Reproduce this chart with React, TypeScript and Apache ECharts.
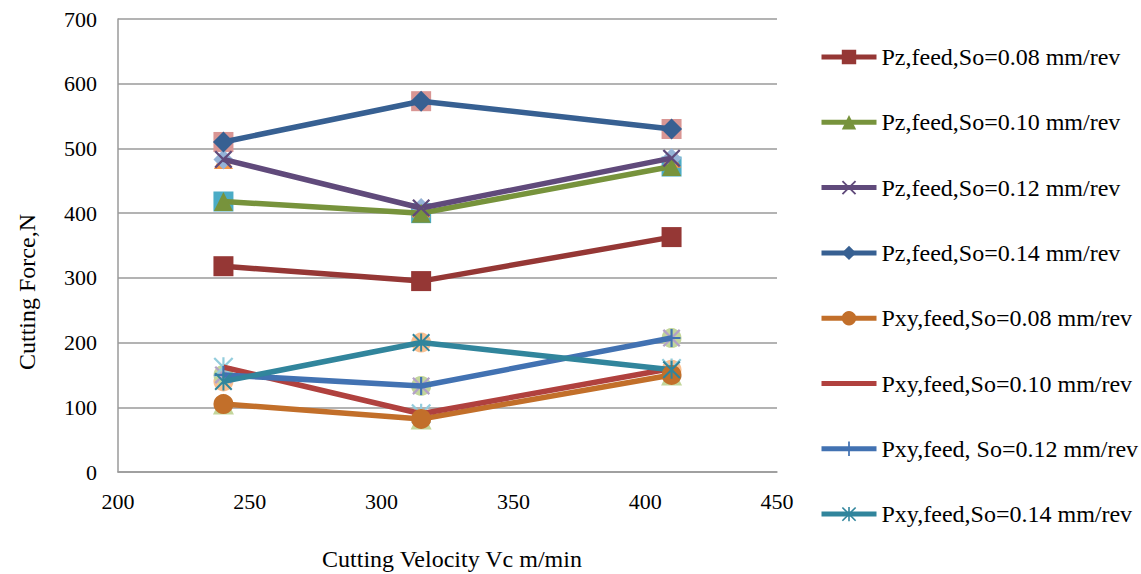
import React, { useEffect, useRef } from "react";
import * as echarts from "echarts";

// ---- data ----
const velocities = [240, 315, 410];
const pz08 = [318, 295, 363];
const pz10 = [418, 400, 472];
const pz12 = [483, 408, 485];
const pz14 = [510, 573, 530];
const pxy08 = [105, 82, 150];
const pxy10 = [162, 90, 160];
const pxy12 = [150, 133, 207];
const pxy14 = [140, 200, 158];

const seriesNames = [
  "Pz,feed,So=0.08 mm/rev",
  "Pz,feed,So=0.10 mm/rev",
  "Pz,feed,So=0.12 mm/rev",
  "Pz,feed,So=0.14 mm/rev",
  "Pxy,feed,So=0.08 mm/rev",
  "Pxy,feed,So=0.10 mm/rev",
  "Pxy,feed, So=0.12 mm/rev",
  "Pxy,feed,So=0.14 mm/rev",
];
const seriesValues = [pz08, pz10, pz12, pz14, pxy08, pxy10, pxy12, pxy14];
const seriesColors = [
  "#953735",
  "#77933C",
  "#604A7B",
  "#376092",
  "#C26F2A",
  "#B0413E",
  "#4272B2",
  "#31859C",
];

const xTicks = { min: 200, max: 450, interval: 50 };
const yTicks = { min: 0, max: 700, interval: 100 };

const FONT = "'Liberation Serif', 'Times New Roman', serif";

const X_PATH =
  "path://M0,0.9L0.9,0L10,9.1L9.1,10Z M9.1,0L10,0.9L0.9,10L0,9.1Z";
const PLUS_PATH =
  "path://M4.4,0L5.6,0L5.6,10L4.4,10Z M0,4.4L10,4.4L10,5.6L0,5.6Z";
const STAR_PATH =
  "path://M0,0.8L0.8,0L10,9.2L9.2,10Z M9.2,0L10,0.8L0.8,10L0,9.2Z M4.45,0L5.55,0L5.55,10L4.45,10Z";

const symbols = [
  "rect",
  "triangle",
  X_PATH,
  "diamond",
  "circle",
  "none",
  PLUS_PATH,
  STAR_PATH,
];
const symbolSizes = [20, 19, 18, 21, 20, 0, 18, 18];

// background marker layers (unlabelled in legend)
const bgLayers: { values: number[]; color: string; symbol: string; size: number }[] = [
  { values: pz14, color: "#D99694", symbol: "rect", size: 20 },
  { values: pz10, color: "#4BACC6", symbol: "rect", size: 20 },
  { values: pz12, color: "#F79646", symbol: "triangle", size: 19 },
  { values: pz12, color: "#95B3D7", symbol: "diamond", size: 20 },
  { values: pxy08, color: "#C3D69B", symbol: "triangle", size: 21 },
  { values: pxy14, color: "#FAC090", symbol: "circle", size: 20 },
  { values: pxy12, color: "#C3D69B", symbol: "circle", size: 20 },
  { values: pxy12, color: "#B3A2C7", symbol: X_PATH, size: 18 },
  { values: pxy10, color: "#93CDDD", symbol: STAR_PATH, size: 20 },
];

const toPoints = (vals: number[]) => velocities.map((v, i) => [v, vals[i]]);

export default function App() {
  const ref = useRef<HTMLDivElement>(null);
  useEffect(() => {
    if (!ref.current) return;
    const chart = echarts.init(ref.current, undefined, { renderer: "svg" });

    const bgSeries = bgLayers.map((l, i) => ({
      type: "scatter",
      name: "bg" + i,
      data: toPoints(l.values),
      symbol: l.symbol,
      symbolSize: l.size,
      itemStyle: { color: l.color, opacity: 1 },
      z: 1,
      silent: true,
    }));

    const mainSeries = seriesNames.map((name, i) => ({
      type: "line",
      name,
      data: toPoints(seriesValues[i]),
      symbol: symbols[i],
      symbolSize: symbolSizes[i],
      showSymbol: symbols[i] !== "none",
      lineStyle: { color: seriesColors[i], width: 5.5 },
      itemStyle: { color: seriesColors[i] },
      z: 3,
    }));

    const legendData = seriesNames.map((name, i) =>
      symbols[i] === "none" ? { name, itemStyle: { opacity: 0 } } : { name }
    );

    chart.setOption({
      animation: false,
      backgroundColor: "#ffffff",
      grid: { left: 118, top: 19, right: 364, bottom: 102, containLabel: false },
      xAxis: {
        type: "value",
        min: xTicks.min,
        max: xTicks.max,
        interval: xTicks.interval,
        axisLine: { show: true, lineStyle: { color: "#9a9a9a", width: 1.5 } },
        axisTick: { show: false },
        splitLine: { show: false },
        axisLabel: { fontFamily: FONT, fontSize: 22, color: "#000", margin: 18 },
      },
      yAxis: {
        type: "value",
        min: yTicks.min,
        max: yTicks.max,
        interval: yTicks.interval,
        axisLine: { show: true, lineStyle: { color: "#9a9a9a", width: 1.5 } },
        axisTick: { show: false },
        splitLine: { show: true, lineStyle: { color: "#9a9a9a", width: 1.5 } },
        axisLabel: { fontFamily: FONT, fontSize: 22, color: "#000", margin: 21 },
      },
      legend: {
        data: legendData,
        orient: "vertical",
        left: 819,
        top: 45,
        padding: 0,
        itemWidth: 55,
        itemHeight: 18,
        itemGap: 41.3,
        lineStyle: { width: 5 },
        textStyle: { fontFamily: FONT, fontSize: 24, color: "#000", lineHeight: 24 },
      },
      graphic: [
        {
          type: "text",
          x: 27,
          y: 292,
          rotation: Math.PI / 2,
          style: {
            text: "Cutting Force,N",
            fontFamily: FONT,
            fontSize: 24,
            fill: "#000",
            align: "center",
            verticalAlign: "middle",
          },
        },
        {
          type: "text",
          x: 452,
          y: 559,
          style: {
            text: "Cutting Velocity Vc m/min",
            fontFamily: FONT,
            fontSize: 24,
            fill: "#000",
            align: "center",
            verticalAlign: "middle",
          },
        },
      ],
      series: [...bgSeries, ...mainSeries],
    });
    return () => chart.dispose();
  }, []);
  return (
    <div
      ref={ref}
      style={{ position: "absolute", left: 0, top: 0, width: 1141, height: 574 }}
    />
  );
}
